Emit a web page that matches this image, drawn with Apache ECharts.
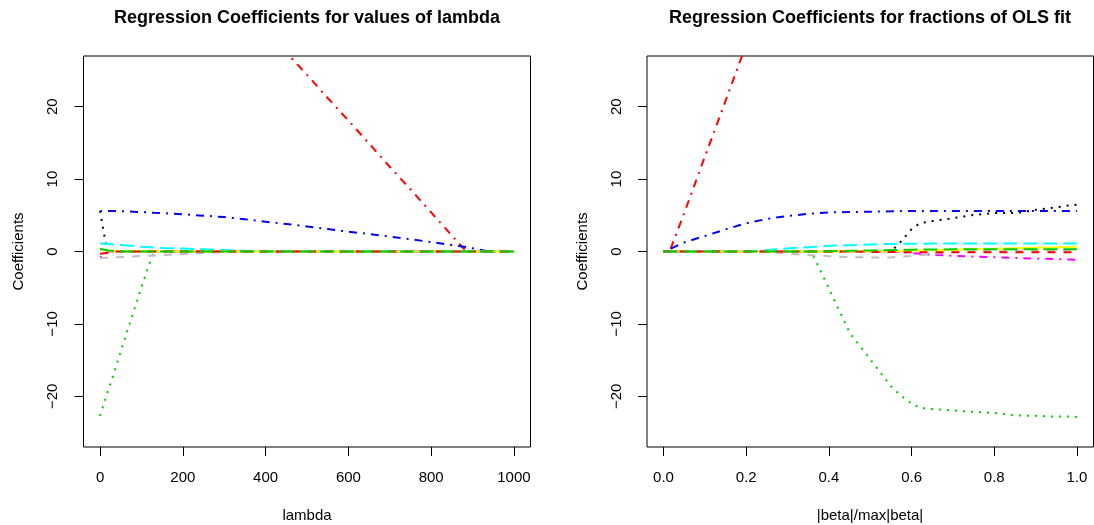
<!DOCTYPE html>
<html>
<head>
<meta charset="utf-8">
<script src="https://cdn.jsdelivr.net/npm/echarts@6/dist/echarts.min.js"></script>
<style>
html,body{margin:0;padding:0;background:#fff;}
#chart{width:1094px;height:525px;}
</style>
</head>
<body>
<div id="chart"></div>
<script>
// ---------- Data ----------
var leftTitle = 'Regression Coefficients for values of lambda';
var rightTitle = 'Regression Coefficients for fractions of OLS fit';
var leftXName = 'lambda';
var rightXName = '|beta|/max|beta|';
var yName = 'Coefficients';

var lambdaTicks = [0, 200, 400, 600, 800, 1000];
var fracTicks = [0, 0.2, 0.4, 0.6, 0.8, 1.0];
var coefTicks = [-20, -10, 0, 10, 20];

// left panel: coefficients along lambda
var lambda = [0, 5, 10, 15, 20, 30, 40, 60, 80, 100, 130, 150, 200, 250, 300, 350, 400, 450, 500, 550, 600, 650, 700, 750, 800, 850, 885, 900, 940, 1000];
var L_black   = [5.6, 3.9, 2.3, 0.7, 0, 0, 0, 0, 0, 0, 0, 0, 0, 0, 0, 0, 0, 0, 0, 0, 0, 0, 0, 0, 0, 0, 0, 0, 0, 0];
var L_red     = [56.0, 55.7, 55.3, 55.0, 54.7, 54.1, 53.5, 52.2, 50.9, 49.7, 47.8, 46.5, 43.3, 40.2, 37.0, 33.9, 30.7, 27.5, 24.4, 21.2, 18.1, 14.9, 11.7, 8.6, 5.4, 2.2, 0, 0, 0, 0];
var L_green   = [-22.7, -21.8, -20.9, -20.0, -19.1, -17.4, -15.6, -12.0, -8.5, -4.9, 0, 0, 0, 0, 0, 0, 0, 0, 0, 0, 0, 0, 0, 0, 0, 0, 0, 0, 0, 0];
var L_blue    = [5.6, 5.6, 5.6, 5.6, 5.6, 5.6, 5.6, 5.55, 5.5, 5.45, 5.35, 5.3, 5.15, 4.95, 4.75, 4.45, 4.1, 3.8, 3.45, 3.1, 2.75, 2.4, 2.05, 1.7, 1.3, 0.9, 0.6, 0.45, 0, 0];
var L_cyan    = [1.1, 1.09, 1.08, 1.06, 1.05, 1.0, 0.95, 0.85, 0.75, 0.65, 0.55, 0.5, 0.4, 0.3, 0.2, 0.1, 0.03, 0, 0, 0, 0, 0, 0, 0, 0, 0, 0, 0, 0, 0];
var L_magenta = [-0.85, -0.6, -0.35, -0.15, 0, 0, 0, 0, 0, 0, 0, 0, 0, 0, 0, 0, 0, 0, 0, 0, 0, 0, 0, 0, 0, 0, 0, 0, 0, 0];
var L_yellow  = [0.45, 0.35, 0.25, 0.15, 0.1, 0.05, 0, 0, 0, 0, 0, 0, 0, 0, 0, 0, 0, 0, 0, 0, 0, 0, 0, 0, 0, 0, 0, 0, 0, 0];
var L_gray    = [-0.9, -0.9, -0.88, -0.86, -0.85, -0.82, -0.8, -0.75, -0.68, -0.62, -0.55, -0.5, -0.35, -0.2, -0.08, 0, 0, 0, 0, 0, 0, 0, 0, 0, 0, 0, 0, 0, 0, 0];
var L_red2    = [-0.3, -0.28, -0.25, -0.22, -0.2, -0.1, 0, 0, 0, 0, 0, 0, 0, 0, 0, 0, 0, 0, 0, 0, 0, 0, 0, 0, 0, 0, 0, 0, 0, 0];
var L_green2  = [0.35, 0.3, 0.25, 0.2, 0.15, 0.1, 0.05, 0, 0, 0, 0, 0, 0, 0, 0, 0, 0, 0, 0, 0, 0, 0, 0, 0, 0, 0, 0, 0, 0, 0];

// right panel: coefficients along |beta|/max|beta|
var frac = [0, 0.016, 0.05, 0.1, 0.15, 0.2, 0.25, 0.3, 0.35, 0.36, 0.4, 0.45, 0.5, 0.55, 0.57, 0.6, 0.62, 0.65, 0.7, 0.75, 0.8, 0.85, 0.9, 0.95, 0.985, 1.0];
var R_black   = [0, 0, 0, 0, 0, 0, 0, 0, 0, 0, 0, 0, 0, 0, 1.1, 3.1, 3.9, 4.2, 4.6, 5.05, 5.3, 5.3, 5.75, 6.1, 6.4, 6.45];
var R_red     = [0, 0.2, 5.3, 13.1, 20.8, 28.6, 36.5, 44, 51, 52.5, 58, 65, 72, 79, 82, 86, 89, 93, 100, 107, 114, 121, 128, 135, 140, 142];
var R_green   = [0, 0, 0, 0, 0, 0, 0, 0, 0, -0.3, -5.1, -11.2, -14.9, -18.6, -19.7, -21.0, -21.6, -21.75, -21.95, -22.15, -22.3, -22.65, -22.7, -22.8, -22.8, -22.85];
var R_blue    = [0, 0.35, 1.25, 2.15, 3.05, 3.9, 4.5, 4.9, 5.2, 5.25, 5.4, 5.45, 5.5, 5.55, 5.58, 5.6, 5.6, 5.6, 5.6, 5.6, 5.6, 5.6, 5.6, 5.6, 5.6, 5.6];
var R_cyan    = [0, 0, 0, 0, 0, 0, 0.2, 0.42, 0.6, 0.63, 0.78, 0.88, 0.97, 1.05, 1.08, 1.08, 1.08, 1.09, 1.09, 1.09, 1.1, 1.1, 1.1, 1.1, 1.1, 1.1];
var R_magenta = [0, 0, 0, 0, 0, 0, 0, 0, 0, 0, 0, 0, 0, 0, -0.05, -0.2, -0.32, -0.45, -0.58, -0.7, -0.8, -0.88, -0.97, -1.05, -1.12, -1.15];
var R_yellow  = [0, 0, 0, 0, 0, 0, 0, 0, 0, 0, 0, 0, 0, 0.05, 0.08, 0.12, 0.15, 0.18, 0.25, 0.32, 0.38, 0.45, 0.52, 0.58, 0.63, 0.65];
var R_gray    = [0, 0, 0, 0, 0, 0, 0, -0.3, -0.5, -0.53, -0.64, -0.78, -0.82, -0.82, -0.72, -0.62, -0.52, -0.35, -0.08, 0.05, 0.08, 0.1, 0.12, 0.15, 0.18, 0.2];
var R_red2    = [0, 0, 0, 0, 0, 0, 0, 0, 0, 0, 0, 0, -0.05, -0.08, -0.09, -0.1, -0.1, -0.1, -0.1, -0.1, -0.1, -0.1, -0.1, -0.1, -0.1, -0.1];
var R_green2  = [0, 0, 0, 0, 0, 0, 0, 0, 0, 0, 0.05, 0.1, 0.15, 0.2, 0.22, 0.25, 0.27, 0.28, 0.3, 0.3, 0.31, 0.31, 0.32, 0.32, 0.32, 0.32];

// ---------- Styles ----------
var FONT = 'Liberation Sans, Arial, Helvetica, sans-serif';
var DOT = [2, 6], DASH = [8, 8], LONGDASH = [14, 6], DOTDASH = [2, 6, 8, 6];
var seriesDefs = [
  {name: 'black',   color: '#000000', dash: DOT,      L: L_black,   R: R_black},
  {name: 'red',     color: '#FF0000', dash: DOTDASH,  L: L_red,     R: R_red},
  {name: 'green',   color: '#00CD00', dash: DOT,      L: L_green,   R: R_green},
  {name: 'blue',    color: '#0000FF', dash: DOTDASH,  L: L_blue,    R: R_blue},
  {name: 'cyan',    color: '#00FFFF', dash: LONGDASH, L: L_cyan,    R: R_cyan},
  {name: 'magenta', color: '#FF00FF', dash: DOTDASH,  L: L_magenta, R: R_magenta},
  {name: 'yellow',  color: '#FFFF00', dash: 'solid',  L: L_yellow,  R: R_yellow},
  {name: 'gray',    color: '#BEBEBE', dash: DASH,     L: L_gray,    R: R_gray},
  {name: 'red2',    color: '#FF0000', dash: DASH,     L: L_red2,    R: R_red2},
  {name: 'green2',  color: '#00CD00', dash: LONGDASH, L: L_green2,  R: R_green2}
];

function pairs(xs, ys) {
  var out = [];
  for (var i = 0; i < xs.length; i++) out.push([xs[i], ys[i]]);
  return out;
}

var series = [];
seriesDefs.forEach(function (d) {
  series.push({
    type: 'line', name: d.name + '_L', xAxisIndex: 0, yAxisIndex: 0,
    data: pairs(lambda, d.L), showSymbol: false, symbol: 'none', clip: true,
    silent: true, animation: false,
    lineStyle: {color: d.color, width: 2, type: d.dash, cap: 'butt'}
  });
  series.push({
    type: 'line', name: d.name + '_R', xAxisIndex: 1, yAxisIndex: 1,
    data: pairs(frac, d.R), showSymbol: false, symbol: 'none', clip: true,
    silent: true, animation: false,
    lineStyle: {color: d.color, width: 2, type: d.dash, cap: 'butt'}
  });
});

function minusFmt(v) {
  return v < 0 ? '\u2212' + Math.abs(v) : String(v);
}

function xAxisDef(idx, min, max, ticks, fmt) {
  return {
    type: 'value', gridIndex: idx, min: min, max: max, position: 'bottom',
    axisLine: {show: false, onZero: false},
    splitLine: {show: false},
    axisTick: {show: true, inside: false, length: 9, customValues: ticks, lineStyle: {color: '#000', width: 1}},
    axisLabel: {show: true, customValues: ticks, margin: 23, color: '#000',
      fontSize: 15, fontFamily: FONT, formatter: fmt}
  };
}
function yAxisDef(idx) {
  return {
    type: 'value', gridIndex: idx, min: -27, max: 27, position: 'left',
    axisLine: {show: false, onZero: false},
    splitLine: {show: false},
    axisTick: {show: true, inside: false, length: 9, customValues: coefTicks, lineStyle: {color: '#000', width: 1}},
    axisLabel: {show: true, customValues: coefTicks, margin: 23, rotate: 90, color: '#000',
      fontSize: 15, fontFamily: FONT, formatter: minusFmt}
  };
}

var chart = echarts.init(document.getElementById('chart'), null, {renderer: 'canvas'});
chart.setOption({
  animation: false,
  backgroundColor: '#ffffff',
  title: [
    {text: leftTitle, left: 307, top: 9, textAlign: 'center', padding: 0,
      textStyle: {fontSize: 18, fontWeight: 'bold', fontFamily: FONT, color: '#000', lineHeight: 18}},
    {text: rightTitle, left: 870, top: 9, textAlign: 'center', padding: 0,
      textStyle: {fontSize: 18, fontWeight: 'bold', fontFamily: FONT, color: '#000', lineHeight: 18}}
  ],
  grid: [
    {left: 83.5, top: 56, width: 447, height: 391, show: true, borderColor: '#000', borderWidth: 1, backgroundColor: 'transparent', containLabel: false},
    {left: 647, top: 56, width: 446.5, height: 391, show: true, borderColor: '#000', borderWidth: 1, backgroundColor: 'transparent', containLabel: false}
  ],
  xAxis: [
    xAxisDef(0, -40, 1040, lambdaTicks, function (v) { return String(v); }),
    xAxisDef(1, -0.04, 1.04, fracTicks, function (v) { return v.toFixed(1); })
  ],
  yAxis: [yAxisDef(0), yAxisDef(1)],
  graphic: [
    {type: 'text', x: 19, y: 251.5, rotation: Math.PI / 2, silent: true,
      style: {text: yName, fill: '#000', font: '15px ' + FONT, align: 'center', verticalAlign: 'middle'}},
    {type: 'text', x: 582.5, y: 251.5, rotation: Math.PI / 2, silent: true,
      style: {text: yName, fill: '#000', font: '15px ' + FONT, align: 'center', verticalAlign: 'middle'}},
    {type: 'text', x: 307, y: 516, silent: true,
      style: {text: leftXName, fill: '#000', font: '15px ' + FONT, align: 'center', verticalAlign: 'middle'}},
    {type: 'text', x: 870, y: 516, silent: true,
      style: {text: rightXName, fill: '#000', font: '15px ' + FONT, align: 'center', verticalAlign: 'middle'}}
  ],
  series: series
});
</script>
</body>
</html>
